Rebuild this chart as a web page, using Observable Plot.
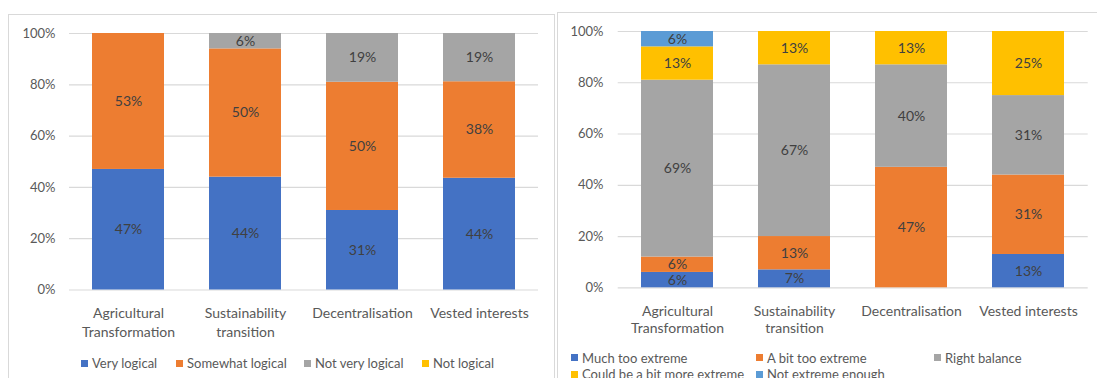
<!DOCTYPE html>
<html>
<head>
<meta charset="utf-8">
<script src="https://cdn.jsdelivr.net/npm/d3@7"></script>
<script src="https://cdn.jsdelivr.net/npm/@observablehq/plot@0.6"></script>
<style>
  html, body { margin: 0; padding: 0; background: #fff; }
  body { width: 1097px; height: 378px; overflow: hidden; position: relative; font-family: Lato, "Open Sans", sans-serif; }
  .panel { position: absolute; border: 1px solid #d9d9d9; box-sizing: border-box; background: #fff; }
  .chart { position: absolute; top: 0; }
  .chart svg { display: block; }
  .leg { position: absolute; height: 16px; display: flex; align-items: center; font-size: 13px; color: #595959; white-space: nowrap; }
  .leg i { display: inline-block; width: 7px; height: 7px; margin-right: 4px; }
</style>
</head>
<body>
<div class="panel" style="left:8px;top:14px;width:547px;height:420px;"></div>
<div class="panel" style="left:557px;top:12px;width:600px;height:420px;"></div>
<div id="left" class="chart" style="left:0px;"></div>
<div id="right" class="chart" style="left:557px;"></div>
<script>
// ---------- data ----------
const categories = ["Agricultural Transformation", "Sustainability transition", "Decentralisation", "Vested interests"];
const categoryLabels = ["Agricultural\nTransformation", "Sustainability\ntransition", "Decentralisation", "Vested interests"];

// Left chart: how logical
const seriesLeft = ["Very logical", "Somewhat logical", "Not very logical", "Not logical"];
const colorsLeft = ["#4472C4", "#ED7D31", "#A5A5A5", "#FFC000"];
const veryLogical     = [47, 44, 31, 44];
const somewhatLogical = [53, 50, 50, 38];
const notVeryLogical  = [0, 6, 19, 19];
const notLogical      = [0, 0, 0, 0];

// Right chart: how extreme
const seriesRight = ["Much too extreme", "A bit too extreme", "Right balance", "Could be a bit more extreme", "Not extreme enough"];
const colorsRight = ["#4472C4", "#ED7D31", "#A5A5A5", "#FFC000", "#5B9BD5"];
const muchTooExtreme    = [6, 7, 0, 13];
const aBitTooExtreme    = [6, 13, 47, 31];
const rightBalance      = [69, 67, 40, 31];
const couldBeMore       = [13, 13, 13, 25];
const notExtremeEnough  = [6, 0, 0, 0];

const yTicks = [0, 0.2, 0.4, 0.6, 0.8, 1];

function toRows(series, valueArrays) {
  const rows = [];
  series.forEach((s, si) => {
    categories.forEach((c, ci) => rows.push({cat: c, series: s, value: valueArrays[si][ci]}));
  });
  return rows;
}

function chart(rows, series, colors, L) {
  const stack = (o) => Plot.stackY({offset: "normalize"}, o);
  return Plot.plot({
    width: L.width, height: L.height,
    marginLeft: L.ml, marginRight: L.mr, marginTop: L.mt, marginBottom: L.mb,
    style: {fontFamily: "Lato, 'Open Sans', sans-serif", background: "transparent", overflow: "visible"},
    x: {domain: categories, paddingInner: L.pi, paddingOuter: L.pi / 2, axis: null},
    y: {domain: [0, 1], axis: null},
    color: {domain: series, range: colors},
    marks: [
      Plot.gridY(yTicks, {stroke: "#d9d9d9", strokeOpacity: 1, strokeWidth: 1.2}),
      Plot.axisY(yTicks, {label: null, tickSize: 0, tickPadding: L.tp, tickFormat: d3.format(".0%"), fontSize: 13, fill: "#595959"}),
      Plot.barY(rows, stack({x: "cat", y: "value", z: "series", fill: "series"})),
      Plot.text(rows.filter(d => d.value > 0), stack({x: "cat", y: "value", z: "series", text: d => d.value + "%", fill: "#404040", fontSize: 14})),
      Plot.text(categories, {x: d => d, text: (d, i) => categoryLabels[i], frameAnchor: "bottom", lineAnchor: "top", dy: L.dy, lineHeight: L.lh, fontSize: 14, fill: "#595959"})
    ]
  });
}

const rowsLeft = toRows(seriesLeft, [veryLogical, somewhatLogical, notVeryLogical, notLogical]);
const rowsRight = toRows(seriesRight, [muchTooExtreme, aBitTooExtreme, rightBalance, couldBeMore, notExtremeEnough]);

document.getElementById("left").appendChild(
  chart(rowsLeft, seriesLeft, colorsLeft, {width: 555, height: 345, ml: 69, mr: 17, mt: 33, mb: 55.5, pi: 0.386, tp: 14, dy: 14, lh: 1.38})
);
document.getElementById("right").appendChild(
  chart(rowsRight, seriesRight, colorsRight, {width: 540, height: 345, ml: 60.7, mr: 9.3, mt: 31, mb: 57.7, pi: 0.387, tp: 14.7, dy: 15, lh: 1.28})
);

// ---------- legends ----------
function legend(series, colors, positions) {
  series.forEach((s, i) => {
    const [x, yc] = positions[i];
    const el = document.createElement("div");
    el.className = "leg";
    el.style.left = x + "px";
    el.style.top = (yc - 8) + "px";
    const sw = document.createElement("i");
    sw.style.background = colors[i];
    el.appendChild(sw);
    el.appendChild(document.createTextNode(s));
    document.body.appendChild(el);
  });
}
legend(seriesLeft, colorsLeft, [[81, 363], [176, 363], [304, 363], [422, 363]]);
legend(seriesRight, colorsRight, [[571, 357.5], [756, 357.5], [934, 357.5], [571, 374], [756, 374]]);
</script>
</body>
</html>
